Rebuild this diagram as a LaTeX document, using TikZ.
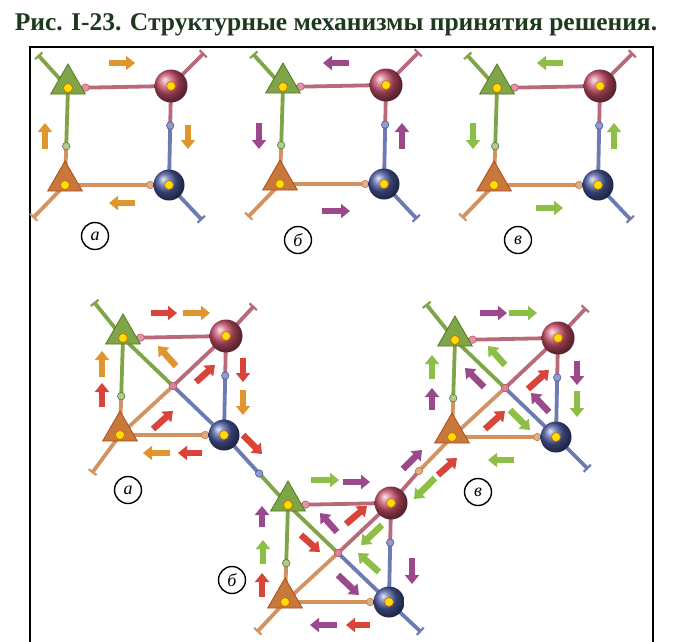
\documentclass[tikz,border=0pt]{standalone}
\usepackage{fontspec}
\setmainfont{Liberation Serif}
\usetikzlibrary{arrows.meta,shapes.geometric,calc}
\definecolor{cG}{HTML}{7FA548}
\definecolor{cGd}{HTML}{4F7A22}
\definecolor{cR}{HTML}{C8506A}
\definecolor{cRl}{HTML}{B86A7A}
\definecolor{cB}{HTML}{4A5AA0}
\definecolor{cO}{HTML}{C8783A}
\definecolor{cOd}{HTML}{B04A1A}
\definecolor{aO}{HTML}{E0952E}
\definecolor{aR}{HTML}{D8443A}
\definecolor{aP}{HTML}{9A4A8C}
\definecolor{aG}{HTML}{8CBE48}
\definecolor{ttl}{HTML}{1E3A1E}
\tikzset{
 ax/.style={line width=3.8pt,line cap=round},
 gtri/.style={regular polygon,regular polygon sides=3,minimum size=40pt,inner sep=0pt,fill=cG,draw=cGd,line width=0.8pt},
 otri/.style={regular polygon,regular polygon sides=3,minimum size=40pt,inner sep=0pt,fill=cO,draw=cOd,line width=0.8pt},
 rball/.style={circle,minimum size=33pt,inner sep=0pt,shading=ball,ball color=cR},
 bball/.style={circle,minimum size=31pt,inner sep=0pt,shading=ball,ball color=cB},
 nuc/.style={circle,minimum size=9pt,inner sep=0pt,fill=yellow!80!orange,draw=orange!80!black,line width=0.6pt},
 syn/.style={circle,minimum size=7.5pt,inner sep=0pt,line width=0.6pt},
 dend/.style={ax,-{Bar[width=10pt,line width=2.2pt]}},
 barr/.style={line width=6.5pt,-{Triangle[length=9pt,width=14pt]}},
 lab/.style={circle,draw,line width=1.4pt,minimum size=27pt,inner sep=0pt,font=\itshape\fontsize{18}{18}\selectfont}
}
\newcommand\net[4]{%
 \coordinate (#1tl) at (#2,#3);
 \coordinate (#1tr) at ($(#2,#3)+(103,-2)$);
 \coordinate (#1bl) at ($(#2,#3)+(-3,97)$);
 \coordinate (#1br) at ($(#2,#3)+(101,97)$);
 \coordinate (#1c) at ($(#2,#3)+(50,48)$);
 \coordinate (#1s1) at ($(#1tl)!0.17!(#1tr)$);
 \coordinate (#1s2) at ($(#1tr)!0.4!(#1br)$);
 \coordinate (#1s3) at ($(#1bl)!0.82!(#1br)$);
 \coordinate (#1s4) at ($(#1tl)!0.6!(#1bl)$);
 \draw[ax,cRl] (#1tr) -- (#1s1);
 \draw[ax,cG] (#1tl) -- (#1s1);
 \draw[ax,cRl] (#1tr) -- (#1s2);
 \draw[ax,cB!80] (#1br) -- (#1s2);
 \draw[ax,cO!80] (#1bl) -- (#1s3);
 \draw[ax,cB!80] (#1br) -- (#1s3);
 \draw[ax,cG] (#1tl) -- (#1s4);
 \draw[ax,cO!80] (#1bl) -- (#1s4);
 \ifnum#4=1
 \draw[ax,cG] (#1tl) -- (#1c);
 \draw[ax,cB!80] (#1br) -- (#1c);
 \draw[ax,cO!80] (#1bl) -- (#1c);
 \draw[ax,cRl] (#1tr) -- (#1c);
 \node[syn,fill=cR!70,draw=cR] (#1sc) at (#1c) {};
 \fi
 \node[syn,fill=cR!60,draw=cR] at (#1s1) {};
 \node[syn,fill=cB!60,draw=cB] at (#1s2) {};
 \node[syn,fill=cO!60,draw=cO] at (#1s3) {};
 \node[syn,fill=cG!60,draw=cGd] at (#1s4) {};
}
\newcommand\cells[1]{%
 \node[gtri] (#1G) at ($(#1tl)+(0,-4)$) {};
 \node[rball] (#1R) at (#1tr) {};
 \node[bball] (#1B) at (#1br) {};
 \node[otri] (#1O) at ($(#1bl)+(0,-4)$) {};
 \node[nuc] at (#1tl) {};
 \node[nuc] at (#1tr) {};
 \node[nuc] at (#1br) {};
 \node[nuc] at (#1bl) {};
}
\begin{document}
\begin{tikzpicture}[x=1pt,y=-1pt]
\useasboundingbox (0,0) rectangle (675,641);
\fill[white] (0,0) rectangle (675,641);
\node[font=\bfseries\fontsize{25.5}{26}\selectfont,text=ttl] (title) at (336,25) {Рис. I-23. Структурные механизмы принятия решения.};
\draw[line width=1.2pt] (30,660) -- (30,47) -- (653,47) -- (653,660);
\net{a}{68}{88}{0}
\net{b}{283}{87}{0}
\net{c}{497}{88}{0}
\foreach \p in {a,b,c}{
 \draw[dend,cG] (\p tl) -- ++(-30,-33);
 \draw[dend,cRl] (\p tr) -- ++(33,-33);
 \draw[dend,cB!80] (\p br) -- ++(33,35);
 \draw[dend,cO!80] (\p bl) -- ++(-32,33);
}
\cells{a}\cells{b}\cells{c}
\net{d}{123}{338}{1}
\net{e}{288}{505}{1}
\net{f}{455}{340}{1}
\draw[dend,cG] (dtl) -- ++(-29,-36);
\draw[dend,cRl] (dtr) -- ++(28,-30);
\draw[dend,cO!80] (dbl) -- ++(-28,38);
\draw[dend,cO!80] (ebl) -- ++(-28,30);
\draw[dend,cB!80] (ebr) -- ++(32,30);
\draw[dend,cG] (ftl) -- ++(-29,-36);
\draw[dend,cRl] (ftr) -- ++(28,-30);
\draw[dend,cB!80] (fbr) -- ++(32,32);
\coordinate (j1) at ($(dbr)!0.55!(etl)$);
\coordinate (j2) at (419,471);
\draw[ax,cB!80] (dbr) -- (j1);
\draw[ax,cG] (etl) -- (j1);
\draw[ax,cO!80] (fbl) -- (j2);
\draw[ax,cRl] (etr) -- (j2);
\node[syn,fill=cB!60,draw=cB] at (j1) {};
\node[syn,fill=cO!60,draw=cO] at (j2) {};
\cells{d}\cells{e}\cells{f}
\node[lab] (la) at (95,236) {а};
\node[lab] (lb) at (298,240) {б};
\node[lab] (lc) at (518,240) {в};
\node[lab] (ld) at (128,490) {а};
\node[lab] (le) at (232,580) {б};
\node[lab] (lf) at (478,492) {в};
\draw[barr,aO] (109,63) -- (135,63);
\draw[barr,aO] (188,125) -- (188,149);
\draw[barr,aO] (135,203) -- (109,203);
\draw[barr,aO] (45,149) -- (45,123);
\draw[barr,aP] (349,63) -- (323,63);
\draw[barr,aP] (402,149) -- (402,123);
\draw[barr,aP] (322,211) -- (350,211);
\draw[barr,aP] (259,123) -- (259,149);
\draw[barr,aG] (563,63) -- (537,63);
\draw[barr,aG] (614,149) -- (614,123);
\draw[barr,aG] (536,208) -- (563,208);
\draw[barr,aG] (473,123) -- (473,149);
\draw[barr,aR] (151,313) -- (177,313);
\draw[barr,aO] (183,313) -- (210,313);
\draw[barr,aR] (243,358) -- (243,382);
\draw[barr,aO] (243,390) -- (243,415);
\draw[barr,aO] (170,453) -- (143,453);
\draw[barr,aR] (202,453) -- (178,453);
\draw[barr,aO] (102,377) -- (102,351);
\draw[barr,aR] (102,407) -- (102,383);
\draw[barr,aO] (176,366) -- (158,346);
\draw[barr,aR] (196,382) -- (215,365);
\draw[barr,aR] (153,429) -- (173,411);
\draw[barr,aR] (243,435) -- (262,454);
\draw[barr,aG] (311,480) -- (339,480);
\draw[barr,aP] (343,482) -- (370,482);
\draw[barr,aP] (262,527) -- (262,506);
\draw[barr,aG] (263,564) -- (263,540);
\draw[barr,aR] (262,597) -- (262,573);
\draw[barr,aP] (412,558) -- (412,584);
\draw[barr,aP] (337,625) -- (310,625);
\draw[barr,aR] (370,625) -- (346,625);
\draw[barr,aR] (346,524) -- (367,506);
\draw[barr,aP] (337,532) -- (320,513);
\draw[barr,aR] (301,535) -- (320,552);
\draw[barr,aG] (382,525) -- (361,545);
\draw[barr,aG] (379,572) -- (358,553);
\draw[barr,aP] (338,575) -- (359,595);
\draw[barr,aG] (435,478) -- (414,499);
\draw[barr,aP] (403,469) -- (422,450);
\draw[barr,aR] (438,475) -- (457,458);
\draw[barr,aP] (480,313) -- (507,313);
\draw[barr,aG] (509,313) -- (537,313);
\draw[barr,aG] (432,379) -- (432,355);
\draw[barr,aP] (432,410) -- (432,388);
\draw[barr,aP] (577,361) -- (577,385);
\draw[barr,aG] (577,391) -- (577,417);
\draw[barr,aG] (514,460) -- (488,460);
\draw[barr,aG] (505,365) -- (488,346);
\draw[barr,aP] (484,387) -- (465,368);
\draw[barr,aR] (528,389) -- (549,370);
\draw[barr,aP] (549,412) -- (531,393);
\draw[barr,aR] (485,429) -- (505,411);
\draw[barr,aG] (510,410) -- (530,430);
\end{tikzpicture}
\end{document}
